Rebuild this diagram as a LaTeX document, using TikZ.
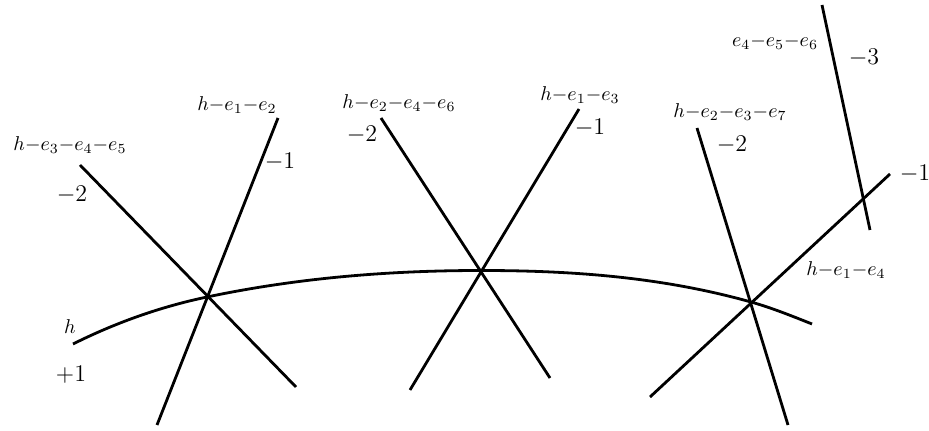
\documentclass[tikz,border=0pt]{standalone}
\begin{document}
\begin{tikzpicture}[x=0.5pt,y=-0.5pt,
  curve/.style={line width=1.4pt, line cap=butt},
  big/.style={inner sep=0pt, font=\fontsize{13}{15}\selectfont},
  small/.style={inner sep=0pt, font=\fontsize{9.9}{11}\selectfont}]
\useasboundingbox (0,0) rectangle (929,431);
% endpoints
\coordinate (hs) at (73,344);
\coordinate (P1) at (207,297);
\coordinate (P2) at (481,270.5);
\coordinate (P3) at (751,302);
\coordinate (he) at (812,324);
\coordinate (a1) at (80,165);   \coordinate (a2) at (296,387);
\coordinate (b1) at (278,118);  \coordinate (b2) at (157,425);
\coordinate (c1) at (381,118);  \coordinate (c2) at (550,378);
\coordinate (d1) at (579,109);  \coordinate (d2) at (410,390);
\coordinate (f1) at (697,128);  \coordinate (f2) at (788,425);
\coordinate (g1) at (890,174);  \coordinate (g2) at (650,397);
\coordinate (k1) at (822,5);    \coordinate (k2) at (870,230);
% curve h
\draw[curve] (hs) .. controls (117.7,321.7) and (162.3,306.4) .. (P1)
  .. controls (298.3,277.8) and (389.7,270.5) .. (P2)
  .. controls (571,270.5) and (661,276.8) .. (P3)
  .. controls (771.3,307.7) and (791.7,315.9) .. (he);
% lines
\draw[curve] (a1) -- (a2);
\draw[curve] (b1) -- (b2);
\draw[curve] (c1) -- (c2);
\draw[curve] (d1) -- (d2);
\draw[curve] (f1) -- (f2);
\draw[curve] (g1) -- (g2);
\draw[curve] (k1) -- (k2);
% labels
\node[small] (la) at (70,145) {$h{-}e_3{-}e_4{-}e_5$};
\node[big]   (na) at (72,195) {$-2$};
\node[small] (lb) at (237,105) {$h{-}e_1{-}e_2$};
\node[big]   (nb) at (280,162) {$-1$};
\node[small] (lc) at (399,103) {$h{-}e_2{-}e_4{-}e_6$};
\node[big]   (nc) at (362,135) {$-2$};
\node[small] (ld) at (580,95) {$h{-}e_1{-}e_3$};
\node[big]   (nd) at (590,128) {$-1$};
\node[small] (lk) at (775,42) {$e_4{-}e_5{-}e_6$};
\node[big]   (nk) at (864,58) {$-3$};
\node[small] (lf) at (730,112) {$h{-}e_2{-}e_3{-}e_7$};
\node[big]   (nf) at (732,145) {$-2$};
\node[big]   (ng) at (915,174) {$-1$};
\node[small] (lg) at (846,270) {$h{-}e_1{-}e_4$};
\node[small] (lh) at (70,327) {$h$};
\node[big]   (nh) at (71,375) {$+1$};
\end{tikzpicture}
\end{document}
